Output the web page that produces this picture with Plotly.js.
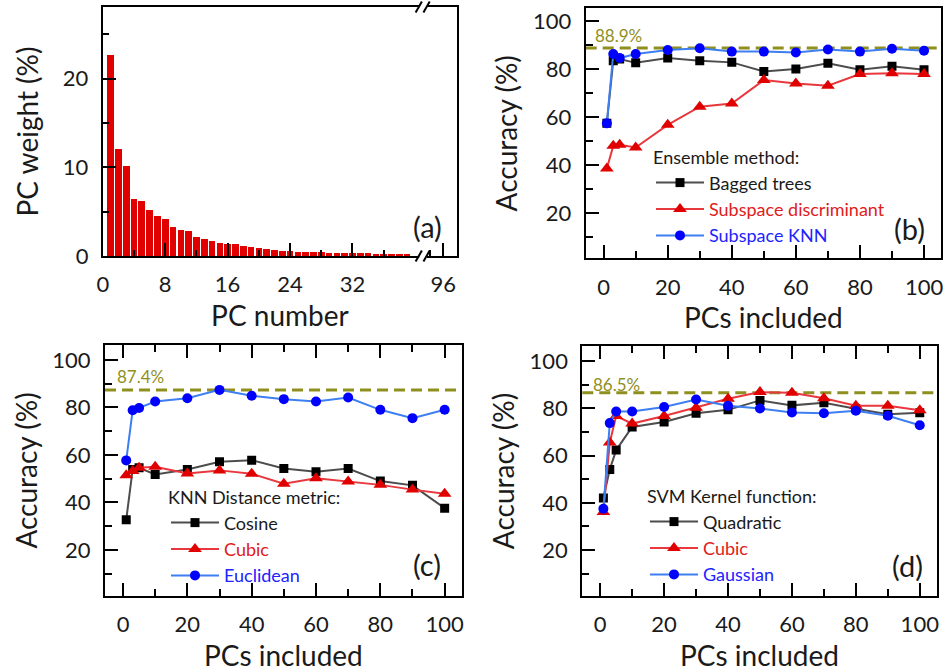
<!DOCTYPE html>
<html>
<head>
<meta charset="utf-8">
<script src="https://cdn.plot.ly/plotly-3.0.1.min.js"></script>
<style>
  html, body { margin: 0; padding: 0; background: #fff; }
  #chart { width: 947px; height: 672px; }
</style>
</head>
<body>
<div id="chart"></div>
<script>
// ---------------- data ----------------
const pcNumber = [1,2,3,4,5,6,7,8,9,10,11,12,13,14,15,16,17,18,19,20,21,22,23,24,25,26,27,28,29,30,31,32,33,34,35,36,37,38,39];
const pcWeight = [22.7,12.05,10.17,6.44,6.21,5.2,4.52,4.14,3.24,2.98,2.79,2.15,1.92,1.69,1.5,1.36,1.32,1.13,0.98,0.87,0.75,0.68,0.6,0.53,0.5,0.47,0.44,0.42,0.39,0.37,0.35,0.33,0.3,0.29,0.27,0.25,0.24,0.22,0.21];
const pcTickVals = [0, 8, 16, 24, 32, 43.65];
const pcTickText = ['0', '8', '16', '24', '32', '96'];
const pcMinorVals = [4, 12, 20, 28, 36, 42];

const pcsIncluded = [1,3,5,10,20,30,40,50,60,70,80,90,100];

const ensBagged  = [57.5,83.6,84.3,82.7,84.7,83.6,82.9,79.1,80.1,82.5,79.8,81.3,79.8];
const ensSubDisc = [38.5,48.0,48.5,47.3,56.8,64.4,65.7,75.5,74.1,73.1,78.0,78.3,78.0];
const ensSubKNN  = [57.4,86.4,84.7,86.4,88.1,88.8,87.4,87.4,87.0,88.3,87.4,88.6,87.8];
const ensBest = 88.9;

const knnCosine = [32.7,53.9,54.6,51.8,53.9,57.1,57.8,54.3,52.9,54.3,49.0,47.2,37.6];
const knnCubic  = [51.4,53.2,54.6,55.0,52.2,53.5,52.1,47.9,50.2,48.8,47.4,45.4,43.7];
const knnEuclid = [57.7,78.8,79.8,82.5,83.9,87.4,84.9,83.5,82.5,84.2,79.0,75.5,79.0];
const knnBest = 87.4;

const svmQuad  = [42.0,54.1,62.3,72.1,74.2,77.9,79.3,83.3,81.2,82.3,79.8,77.4,78.1];
const svmCubic = [36.1,65.5,76.7,73.5,76.7,80.2,84.0,86.8,86.5,84.2,81.0,81.0,79.1];
const svmGauss = [37.5,73.7,78.6,78.6,80.5,83.7,81.0,79.9,78.2,77.9,78.9,76.8,72.8];
const svmBest = 86.5;

// ---------------- styles ----------------
const FONT = 'Lato, "Open Sans", sans-serif';
const TXT = '#1a1a1a';
const sBlack = {line: {color: '#4d4d4d', width: 2}, marker: {symbol: 'square', color: '#000000', size: 9}};
const sRed   = {line: {color: '#e8383d', width: 2}, marker: {symbol: 'triangle-up', color: '#e00000', size: 12}};
const sBlue  = {line: {color: '#3d7ff2', width: 2}, marker: {symbol: 'circle', color: '#0000ff', size: 10}};
const OLIVE = '#8f8f1f';

function series(x, y, style, name, xa, ya, legend) {
  return Object.assign({type: 'scatter', mode: 'lines+markers', x: x, y: y, name: name,
    xaxis: xa, yaxis: ya, legend: legend, hoverinfo: 'skip'}, JSON.parse(JSON.stringify(style)));
}
const nm = (t, c) => '<span style="color:' + c + '">' + t + '</span>';

const traces = [
  {type: 'bar', x: pcNumber, y: pcWeight, width: 0.85, marker: {color: '#e00000', line: {width: 0}},
   xaxis: 'x', yaxis: 'y', showlegend: false, hoverinfo: 'skip'},
  series(pcsIncluded, ensBagged,  sBlack, nm('Bagged trees', TXT), 'x2', 'y2', 'legend'),
  series(pcsIncluded, ensSubDisc, sRed,   nm('Subspace discriminant', '#e02020'), 'x2', 'y2', 'legend'),
  series(pcsIncluded, ensSubKNN,  sBlue,  nm('Subspace KNN', '#2222ff'), 'x2', 'y2', 'legend'),
  series(pcsIncluded, knnCosine, sBlack, nm('Cosine', TXT), 'x3', 'y3', 'legend2'),
  series(pcsIncluded, knnCubic,  sRed,   nm('Cubic', '#e02020'), 'x3', 'y3', 'legend2'),
  series(pcsIncluded, knnEuclid, sBlue,  nm('Euclidean', '#2222ff'), 'x3', 'y3', 'legend2'),
  series(pcsIncluded, svmQuad,  sBlack, nm('Quadratic', TXT), 'x4', 'y4', 'legend3'),
  series(pcsIncluded, svmCubic, sRed,   nm('Cubic', '#e02020'), 'x4', 'y4', 'legend3'),
  series(pcsIncluded, svmGauss, sBlue,  nm('Gaussian', '#2222ff'), 'x4', 'y4', 'legend3')
];

// ---------------- axes ----------------
const W = 947, H = 672;
const px = v => v / W, py = v => 1 - v / H;

function baseAxis(extra) {
  return Object.assign({
    showline: true, linecolor: '#000', linewidth: 2, mirror: true,
    ticks: 'inside', ticklen: 13, tickwidth: 2, tickcolor: '#000',
    showgrid: false, zeroline: false, fixedrange: true,
    tickfont: {family: FONT, size: 22, color: TXT},
    ticklabelstandoff: 8
  }, extra);
}
function accX(domain, anchor, mirrorTicks) {
  return baseAxis({domain: domain, anchor: anchor, range: [-5.6, 105.3],
    tickmode: 'linear', tick0: 0, dtick: 20, mirror: mirrorTicks ? 'ticks' : true,
    minor: {tickmode: 'linear', tick0: 0, dtick: 10, ticks: 'inside', ticklen: 7, tickwidth: 2, tickcolor: '#000'},
    title: {text: 'PCs included', font: {family: FONT, size: 28, color: TXT}, standoff: 10}});
}
function accY(domain, anchor, range) {
  return baseAxis({domain: domain, anchor: anchor, range: range,
    tickmode: 'linear', tick0: 0, dtick: 20,
    minor: {tickmode: 'linear', tick0: 0, dtick: 10, ticks: 'inside', ticklen: 7, tickwidth: 2, tickcolor: '#000'},
    title: {text: 'Accuracy (%)', font: {family: FONT, size: 28, color: TXT}, standoff: 7}});
}

function legendCfg(title, x, y) {
  return {title: {text: title, font: {family: FONT, size: 18, color: TXT}},
    x: x, y: y, xanchor: 'left', yanchor: 'top', bgcolor: 'rgba(0,0,0,0)',
    borderwidth: 0, font: {family: FONT, size: 18, color: TXT}, tracegroupgap: 0,
    itemwidth: 48};
}

function hline(val, xa, ya) {
  return {type: 'line', xref: xa + ' domain', yref: ya, x0: 0, x1: 1, y0: val, y1: val,
    line: {color: OLIVE, width: 3, dash: '11px,6px'}, layer: 'below'};
}
function breakMark(yd) {
  return [
    {type: 'rect', xref: 'x', yref: 'y domain', x0: 40.55, x1: 41.55, y0: yd - 0.012, y1: yd + 0.012,
     fillcolor: '#fff', line: {width: 0}, layer: 'above'},
    {type: 'line', xref: 'x', yref: 'y domain', x0: 40.1, x1: 40.9, y0: yd - 0.022, y1: yd + 0.022,
     line: {color: '#000', width: 2}, layer: 'above'},
    {type: 'line', xref: 'x', yref: 'y domain', x0: 41.1, x1: 41.9, y0: yd - 0.022, y1: yd + 0.022,
     line: {color: '#000', width: 2}, layer: 'above'}
  ];
}
function panelLabel(t, cx, cy) {
  return {text: t, xref: 'paper', yref: 'paper', x: px(cx), y: py(cy), xanchor: 'center', yanchor: 'middle',
    showarrow: false, font: {family: FONT, size: 29, color: TXT}};
}
function pctLabel(val, xa, ya, xv, shift) {
  return {text: val.toFixed(1) + '%', xref: xa, yref: ya, x: xv, y: val, xanchor: 'left', yanchor: 'bottom',
    yshift: shift, showarrow: false, font: {family: FONT, size: 17, color: OLIVE}};
}

const layout = {
  width: W, height: H, margin: {l: 0, r: 0, t: 0, b: 0},
  paper_bgcolor: '#fff', plot_bgcolor: '#fff', showlegend: true, bargap: 0,
  font: {family: FONT, color: TXT},
  xaxis: baseAxis({domain: [px(102.8), px(457)], anchor: 'y', range: [0, 45.4],
    tickmode: 'array', tickvals: pcTickVals, ticktext: pcTickText,
    minor: {tickmode: 'array', tickvals: pcMinorVals, ticks: 'inside', ticklen: 6, tickwidth: 2, tickcolor: '#000'},
    title: {text: 'PC number', font: {family: FONT, size: 28, color: TXT}, standoff: 10}}),
  yaxis: baseAxis({domain: [py(256), py(7)], anchor: 'x', range: [0, 28.1],
    tickmode: 'array', tickvals: [0, 10, 20],
    minor: {tickmode: 'array', tickvals: [5, 15, 25], ticks: 'inside', ticklen: 6, tickwidth: 2, tickcolor: '#000'},
    title: {text: 'PC weight (%)', font: {family: FONT, size: 28, color: TXT}, standoff: 16}}),
  xaxis2: accX([px(585.7), px(941)], 'y2', false),
  yaxis2: accY([py(258.3), py(8.3)], 'x2', [1, 105.5]),
  xaxis3: accX([px(105), px(461.7)], 'y3', true),
  yaxis3: accY([py(596), py(345)], 'x3', [0.6, 106.3]),
  xaxis4: accX([px(582.3), px(936.7)], 'y4', true),
  yaxis4: accY([py(596), py(346)], 'x4', [0.6, 106.3]),
  legend:  legendCfg('Ensemble method:', px(651), py(141)),
  legend2: legendCfg('KNN Distance metric:', px(166), py(481)),
  legend3: legendCfg('SVM Kernel function:', px(645), py(480)),
  shapes: [].concat(
    [hline(ensBest, 'x2', 'y2'), hline(knnBest, 'x3', 'y3'), hline(svmBest, 'x4', 'y4')],
    breakMark(0), breakMark(1)
  ),
  annotations: [
    panelLabel('(a)', 427, 226),
    panelLabel('(b)', 909, 228),
    panelLabel('(c)', 427, 564),
    panelLabel('(d)', 907, 565),
    pctLabel(ensBest, 'x2', 'y2', -3.2, 0),
    pctLabel(knnBest, 'x3', 'y3', -2.4, 1),
    pctLabel(svmBest, 'x4', 'y4', -2.8, -4)
  ]
};

Plotly.newPlot('chart', traces, layout, {staticPlot: true, displayModeBar: false});
</script>
</body>
</html>
